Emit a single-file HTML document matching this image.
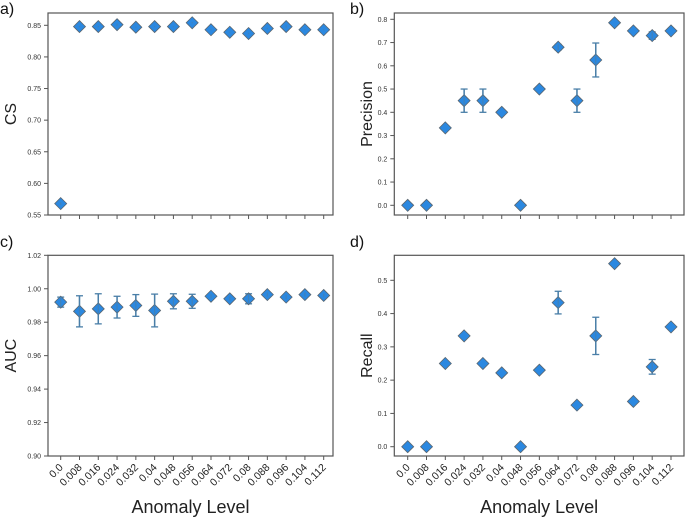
<!DOCTYPE html>
<html><head><meta charset="utf-8"><style>
body{margin:0;background:#fff;}
svg{display:block;font-family:"Liberation Sans",sans-serif;}
</style></head><body>
<svg id="fig" width="685" height="520"></svg>
<script>
const categories=["0.0","0.008","0.016","0.024","0.032","0.04","0.048","0.056","0.064","0.072","0.08","0.088","0.096","0.104","0.112"];
const csValues=[0.568,0.848,0.848,0.851,0.847,0.848,0.848,0.854,0.843,0.839,0.837,0.845,0.848,0.843,0.843];
const csErrors=[0.002,0.001,0.001,0.002,0.001,0.001,0.001,0.001,0.001,0.001,0.001,0.001,0.002,0.001,0.001];
const csTicks=[0.55,0.60,0.65,0.70,0.75,0.80,0.85];
const precisionValues=[0,0,0.333,0.45,0.45,0.4,0,0.5,0.68,0.45,0.625,0.785,0.75,0.73,0.75];
const precisionErrors=[0,0,0,0.05,0.05,0,0,0,0.012,0.05,0.073,0,0,0.016,0];
const precisionTicks=[0,0.1,0.2,0.3,0.4,0.5,0.6,0.7,0.8];
const aucValues=[0.992,0.9865,0.988,0.989,0.990,0.987,0.9925,0.9925,0.9955,0.994,0.994,0.9965,0.995,0.9965,0.996];
const aucErrors=[0.003,0.0093,0.009,0.0065,0.0065,0.0098,0.0045,0.0042,0.0012,0.0012,0.003,0.0012,0.0012,0.0012,0.001];
const aucTicks=[0.90,0.92,0.94,0.96,0.98,1.00,1.02];
const recallValues=[0,0,0.25,0.333,0.25,0.222,0,0.23,0.433,0.125,0.333,0.55,0.136,0.24,0.36];
const recallErrors=[0,0,0,0,0,0,0,0,0.034,0,0.056,0,0,0.022,0];
const recallTicks=[0,0.1,0.2,0.3,0.4,0.5];

const NS="http://www.w3.org/2000/svg";
const svg=document.getElementById('fig');
function mk(tag,attrs,parent){const e=document.createElementNS(NS,tag);for(const k in attrs)e.setAttribute(k,attrs[k]);(parent||svg).appendChild(e);return e;}

function panel(opt){
  const g=mk('g',{});
  
  
  const L=opt.left,R=opt.right,T=opt.top,B=opt.bottom;
  const y=v=>opt.y0px+(v-opt.y0)*(opt.y1px-opt.y0px)/(opt.y1-opt.y0);
  const x=i=>opt.x0px+i*(opt.x1px-opt.x0px)/(categories.length-1);
  const frame=mk('rect',{x:L,y:T,width:R-L,height:B-T,fill:'none',stroke:'#555','stroke-width':1.2},g);
  
  
  opt.ticks.forEach(t=>{
    const yy=y(t);
    mk('line',{x1:L-4,x2:L,y1:yy,y2:yy,stroke:'#555','stroke-width':1},g);
    const tx=mk('text',{x:L-7,y:yy+2.5,'text-anchor':'end','font-size':7,fill:'#333'},g);
    tx.textContent=t.toFixed(opt.dec);
    
    
  });
  categories.forEach((c,i)=>{
    const xx=x(i);
    mk('line',{x1:xx,x2:xx,y1:B,y2:B+4,stroke:'#555','stroke-width':1},g);
    if(opt.xlabels){
      const tx=mk('text',{x:xx+3,y:B+12,'text-anchor':'end','font-size':10.5,fill:'#222',transform:`rotate(-45 ${xx+3} ${B+12})`},g);
      tx.textContent=c;
      
      
    }
  });
  opt.values.forEach((v,i)=>{
    const xx=x(i),yy=y(v),e=opt.errors[i];
    if(e>0){
      const y1=y(v-e),y2=y(v+e);
      mk('line',{x1:xx,x2:xx,y1:y1,y2:y2,stroke:'#4a7fa8','stroke-width':1.5},g);
      mk('line',{x1:xx-3.5,x2:xx+3.5,y1:y1,y2:y1,stroke:'#4a7fa8','stroke-width':1.3},g);
      mk('line',{x1:xx-3.5,x2:xx+3.5,y1:y2,y2:y2,stroke:'#4a7fa8','stroke-width':1.3},g);
    }
    const d=mk('path',{d:`M${xx} ${yy-6}L${xx+6} ${yy}L${xx} ${yy+6}L${xx-6} ${yy}Z`,fill:'#2b88e0',stroke:'#5a6670','stroke-width':0.8},g);
    
    
    if(e>0){mk('line',{x1:xx,x2:xx,y1:y(v-Math.min(e,0.5*(opt.y1-opt.y0))),y2:y(v+e),stroke:'#4a7fa8','stroke-width':1.2,'stroke-opacity':0.7},g);}
  });
  const yt=mk('text',{x:opt.ylx,y:(T+B)/2,'text-anchor':'middle','font-size':16,fill:'#222',transform:`rotate(-90 ${opt.ylx} ${(T+B)/2})`},g);
  yt.textContent=opt.ylabel;
  
  
  const pl=mk('text',{x:opt.plx,y:opt.ply,'font-size':16,fill:'#111'},g);
  pl.textContent=opt.panel;
  
  
  if(opt.xlabels){
    const xt=mk('text',{x:(L+R)/2,y:513,'text-anchor':'middle','font-size':18,fill:'#222'},g);
    xt.textContent='Anomaly Level';
    
    
  }
}
panel({name:'cs',panel:'a)',plx:0,ply:14,ylabel:'CS',ylx:16,left:48,right:333,top:13,bottom:215,y0:0.55,y0px:215,y1:0.85,y1px:25.3,x0px:60.7,x1px:323.7,ticks:csTicks,dec:2,values:csValues,errors:csErrors,xlabels:false});
panel({name:'precision',panel:'b)',plx:350,ply:14,ylabel:'Precision',ylx:372,left:394.3,right:684,top:13,bottom:215,y0:0,y0px:205.3,y1:0.8,y1px:19.3,x0px:407.7,x1px:671,ticks:precisionTicks,dec:1,values:precisionValues,errors:precisionErrors,xlabels:false});
panel({name:'auc',panel:'c)',plx:0,ply:247,ylabel:'AUC',ylx:16,left:48,right:333,top:255.3,bottom:456,y0:0.90,y0px:456,y1:1.02,y1px:255.3,x0px:60.7,x1px:323.7,ticks:aucTicks,dec:2,values:aucValues,errors:aucErrors,xlabels:true});
panel({name:'recall',panel:'d)',plx:350,ply:247,ylabel:'Recall',ylx:372,left:394.3,right:684,top:255.3,bottom:456,y0:0,y0px:446.7,y1:0.5,y1px:280.3,x0px:407.7,x1px:671,ticks:recallTicks,dec:1,values:recallValues,errors:recallErrors,xlabels:true});
</script>
</body></html>
